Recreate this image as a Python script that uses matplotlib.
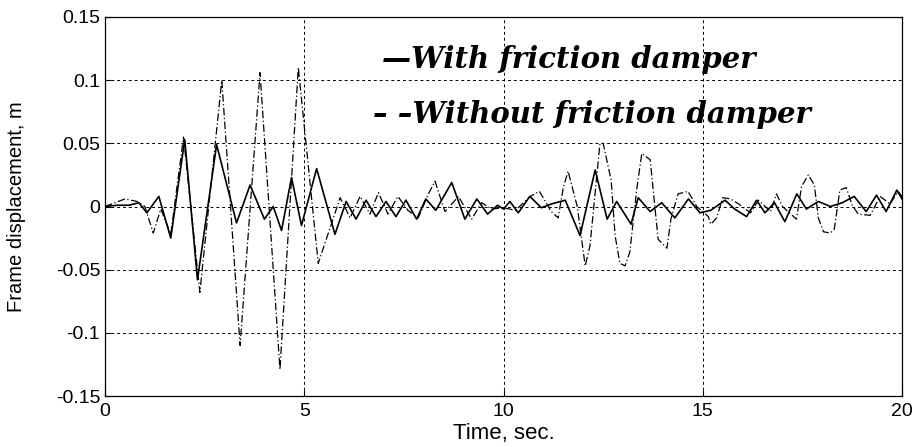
"""Frame displacement time history, with and without friction damper."""

import matplotlib

matplotlib.use("Agg")
import matplotlib.pyplot as plt

# with friction damper (solid)
t_with = [0.0, 0.3, 0.6, 0.85, 1.05, 1.35, 1.65, 2.0, 2.32, 2.8, 3.3, 3.64,
          4.0, 4.22, 4.43, 4.68, 4.93, 5.31, 5.77, 6.05, 6.3, 6.55, 6.8,
          7.05, 7.3, 7.55, 7.82, 8.05, 8.3, 8.7, 9.03, 9.33, 9.6, 9.85,
          10.0, 10.16, 10.37, 10.66, 10.95, 11.2, 11.55, 11.92, 12.3, 12.6,
          12.84, 13.2, 13.38, 13.68, 13.97, 14.3, 14.64, 14.93, 15.2, 15.56,
          15.8, 16.1, 16.35, 16.56, 16.8, 17.06, 17.36, 17.6, 17.9, 18.2,
          18.5, 18.8, 19.1, 19.36, 19.6, 19.87, 20.0]
x_with = [0.0, 0.001, 0.001, 0.003, -0.005, 0.008, -0.025, 0.053, -0.058,
          0.049, -0.013, 0.017, -0.010, 0.000, -0.019, 0.023, -0.015, 0.030,
          -0.022, 0.004, -0.010, 0.005, -0.008, 0.004, -0.008, 0.005, -0.010,
          0.006, -0.003, 0.019, -0.010, 0.006, -0.006, 0.001, -0.002, 0.004,
          -0.005, 0.008, -0.001, 0.002, 0.005, -0.023, 0.029, -0.010, 0.004,
          -0.014, 0.007, -0.004, 0.003, -0.009, 0.006, -0.005, -0.003, 0.005,
          -0.002, -0.008, 0.005, -0.005, 0.003, -0.012, 0.010, -0.002, 0.004,
          0.000, 0.003, 0.008, -0.004, 0.009, -0.004, 0.013, 0.006]

# without friction damper (dashed)
t_without = [0.0, 0.5, 0.8, 1.0, 1.21, 1.4, 1.65, 1.97, 2.38, 2.93, 3.39,
             3.89, 4.39, 4.85, 5.35, 5.9, 6.15, 6.4, 6.65, 6.86, 7.1, 7.35,
             7.6, 7.86, 8.1, 8.28, 8.53, 8.87, 9.2, 9.45, 9.7, 10.0, 10.3,
             10.67, 10.9, 11.2, 11.37, 11.5, 11.62, 11.85, 12.05, 12.17,
             12.42, 12.5, 12.7, 12.8, 12.92, 13.05, 13.17, 13.34, 13.47,
             13.68, 13.88, 14.1, 14.2, 14.38, 14.63, 14.85, 15.14, 15.2,
             15.35, 15.5, 15.7, 15.9, 16.2, 16.4, 16.7, 16.85, 17.0, 17.35,
             17.48, 17.65, 17.8, 17.9, 18.03, 18.2, 18.3, 18.44, 18.6, 18.75,
             18.9, 19.2, 19.45, 19.7, 19.9, 20.0]
x_without = [0.0, 0.006, 0.004, 0.0, -0.021, -0.002, -0.022, 0.055, -0.068,
             0.100, -0.110, 0.106, -0.129, 0.110, -0.045, 0.007, -0.009,
             0.008, -0.006, 0.011, -0.006, 0.008, -0.003, -0.009, 0.009,
             0.020, -0.004, 0.008, -0.010, 0.003, -0.002, -0.001, -0.003,
             0.008, 0.012, -0.004, -0.009, 0.015, 0.028, 0.000, -0.047,
             -0.031, 0.050, 0.050, 0.021, -0.023, -0.045, -0.047, -0.036,
             0.013, 0.042, 0.037, -0.026, -0.033, -0.010, 0.010, 0.012, 0.000,
             -0.008, -0.014, -0.009, 0.007, 0.006, 0.002, -0.005, 0.005,
             -0.004, 0.010, 0.000, -0.010, 0.016, 0.025, 0.017, -0.009,
             -0.020, -0.021, -0.018, 0.013, 0.015, 0.001, -0.006, -0.007,
             0.008, 0.002, 0.012, 0.008]

x_ticks = [0, 5, 10, 15, 20]
y_ticks = [-0.15, -0.1, -0.05, 0, 0.05, 0.1, 0.15]
y_tick_labels = ["-0.15", "-0.1", "-0.05", "0", "0.05", "0.1", "0.15"]

plt.rcParams["font.family"] = ["Liberation Sans", "DejaVu Sans"]

fig = plt.figure(figsize=(9.18, 4.47), dpi=100)
ax = fig.add_axes([0.1144, 0.114, 0.8682, 0.848])

ax.plot(t_without, x_without, color="black", lw=0.9,
        linestyle=(0, (6, 2, 1, 2)))
ax.plot(t_with, x_with, color="black", lw=1.2)

ax.set_xlim(0, 20)
ax.set_ylim(-0.15, 0.15)
ax.set_xticks(x_ticks)
ax.set_yticks(y_ticks)
ax.set_yticklabels(y_tick_labels)
ax.tick_params(direction="in", length=4, labelsize=14, width=0.8)
ax.tick_params(axis="x", pad=5)
ax.grid(True, color="black", linestyle=(0, (3, 3)), linewidth=0.7)
for s in ax.spines.values():
    s.set_linewidth(0.9)

ax.set_xlabel("Time, sec.", fontsize=16, labelpad=2)
ax.set_ylabel("Frame displacement, m", fontsize=14.5, labelpad=21)

legend_font = dict(family=["DejaVu Serif"], fontweight="bold",
                   fontstyle="italic", fontsize=21)
ax.text(6.95, 0.110, "\u2014With friction damper", **legend_font)
ax.text(6.73, 0.066, "\u2013 \u2013Without friction damper", **legend_font)

fig.savefig("out.png", dpi=100)
